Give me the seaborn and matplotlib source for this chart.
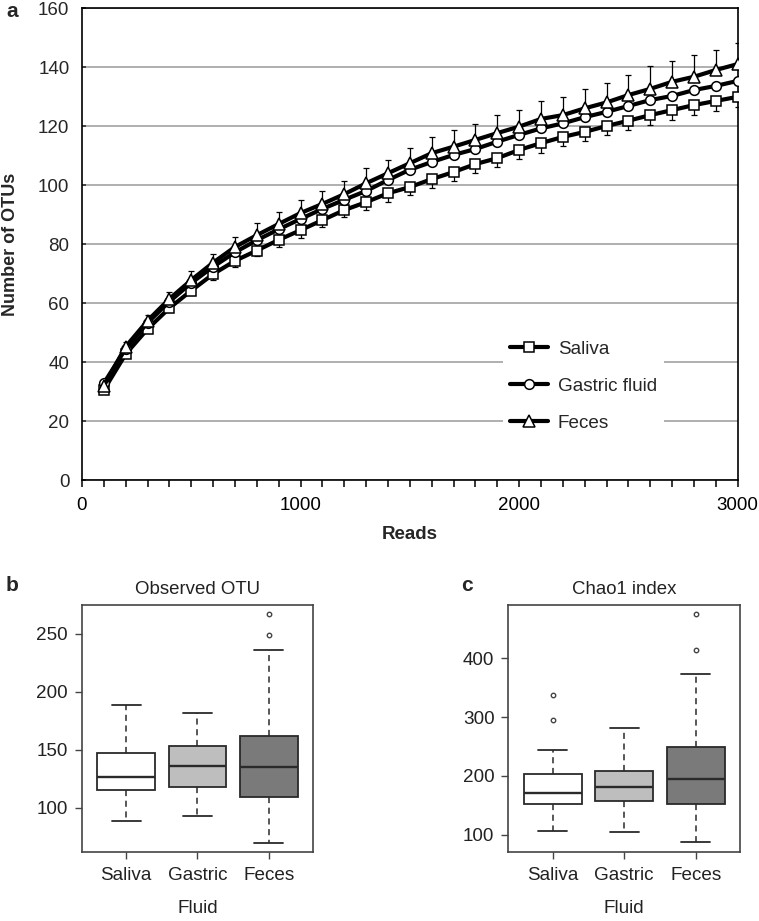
import numpy as np
import pandas as pd
import matplotlib
matplotlib.use("Agg")
import matplotlib.pyplot as plt
from matplotlib.ticker import MultipleLocator
import seaborn as sns

# rarefaction curves (panel a)
reads = [100, 200, 300, 400, 500, 600, 700, 800, 900, 1000,
         1100, 1200, 1300, 1400, 1500, 1600, 1700, 1800, 1900, 2000,
         2100, 2200, 2300, 2400, 2500, 2600, 2700, 2800, 2900, 3000]
saliva = [30.5, 42.7, 51.2, 58.3, 64.2, 69.8, 74.3, 77.8, 81.4, 84.7,
          88.1, 91.5, 94.2, 97.2, 99.3, 102.0, 104.4, 107.1, 109.1, 111.9,
          114.2, 116.3, 118.0, 120.0, 121.8, 123.7, 125.4, 127.1, 128.5, 129.9]
gastric = [32.8, 44.5, 53.3, 60.5, 66.8, 72.3, 77.2, 81.3, 85.0, 88.5,
           91.9, 95.0, 98.0, 101.7, 105.2, 107.8, 110.2, 112.2, 114.7, 117.0,
           119.2, 120.9, 123.0, 124.8, 126.8, 128.8, 130.2, 132.2, 133.6, 135.3]
feces = [31.9, 45.2, 54.0, 61.4, 67.8, 73.7, 79.0, 83.0, 86.8, 90.5,
         93.6, 96.9, 100.6, 104.0, 107.4, 110.8, 113.0, 115.3, 117.6, 119.8,
         122.4, 123.7, 126.0, 128.0, 130.5, 132.6, 135.0, 136.7, 139.0, 141.0]
feces_err = [1.0, 1.5, 2.0, 2.5, 3.0, 3.0, 3.5, 4.0, 4.0, 4.5,
             4.5, 4.5, 5.0, 4.5, 5.0, 5.5, 5.5, 5.5, 6.0, 5.6,
             6.0, 6.0, 6.5, 6.5, 6.8, 7.6, 7.0, 7.3, 6.8, 7.0]
saliva_err = [0.5, 1.0, 1.0, 1.5, 1.5, 2.0, 2.0, 2.0, 2.5, 2.5,
              2.5, 2.5, 2.8, 2.8, 2.8, 3.0, 3.0, 3.0, 3.0, 3.2,
              3.2, 3.2, 3.2, 3.2, 3.3, 3.3, 3.4, 3.4, 3.5, 3.6]

# per-sample diversity (panels b, c)
fluids = ["Saliva", "Gastric", "Feces"]
otu_saliva = [88.5, 101, 110, 115.8, 119, 123, 126.7, 133, 140, 147.0, 158, 171, 189.1]
otu_gastric = [92.8, 104, 112, 117.8, 124, 130, 136.0, 141, 147, 153.1, 162, 171, 181.9]
otu_feces = [69.8, 88, 100, 109.1, 118, 127, 135.0, 143, 152, 161.7, 235.9, 249.1, 266.9]
chao_saliva = [107.3, 128, 142, 152.1, 160, 166, 171.8, 183, 194, 203.6, 244.3, 295.2, 337.2]
chao_gastric = [105.6, 133, 148, 157.7, 167, 175, 182.0, 192, 201, 209.2, 232, 256, 281.2]
chao_feces = [87.6, 118, 138, 152.1, 168, 182, 195.6, 215, 232, 248.9, 372.2, 414.1, 475.2]

box_colors = ["#FFFFFF", "#BEBEBE", "#7A7A7A"]

sns.set_style("white")
plt.rcParams["font.family"] = ["Liberation Sans", "DejaVu Sans"]

fig = plt.figure(figsize=(7.59, 9.21), dpi=100)

# ---------- panel a ----------
ax = fig.add_axes([0.108, 0.4788, 0.864, 0.5125])
series = [("Saliva", saliva, "s"), ("Gastric fluid", gastric, "o"), ("Feces", feces, "^")]

ax.errorbar(reads, saliva, yerr=[saliva_err, np.zeros(len(reads))], fmt="none",
            ecolor="black", elinewidth=0.9, capsize=2.5, capthick=0.9, zorder=2)
ax.errorbar(reads, feces, yerr=[np.zeros(len(reads)), feces_err], fmt="none",
            ecolor="black", elinewidth=0.9, capsize=2.5, capthick=0.9, zorder=2)

for name, vals, mk in series:
    sns.lineplot(x=reads, y=vals, ax=ax, color="black", linewidth=3.0,
                 marker=mk, markersize=8 if mk == "^" else 7,
                 markerfacecolor="white", markeredgecolor="black",
                 markeredgewidth=1.1, label=name, zorder=3)

ax.set_xlim(0, 3000)
ax.set_ylim(0, 160)
ax.set_yticks(range(0, 161, 20))
ax.set_xticks([0, 1000, 2000, 3000])
ax.xaxis.set_minor_locator(MultipleLocator(100))
ax.yaxis.grid(True, color="#9a9a9a", linewidth=1.1)
ax.set_axisbelow(True)
for s in ax.spines.values():
    s.set_color("black")
    s.set_linewidth(1.2)
ax.tick_params(axis="x", which="both", direction="out", length=5, width=1.1,
               labelsize=13.5, pad=7, colors="black", bottom=True)
ax.tick_params(axis="y", direction="in", length=3, width=1.1, labelsize=13.5, pad=9, left=True)
ax.set_xlabel("Reads", fontsize=13.5, fontweight="bold", labelpad=9)
ax.set_ylabel("Number of OTUs", fontsize=13, fontweight="bold")
ax.yaxis.set_label_coords(-0.096, 0.5)

leg = ax.legend(loc="center", bbox_to_anchor=(0.765, 0.199), fontsize=13.6,
                frameon=True, framealpha=1, facecolor="white", edgecolor="none",
                handlelength=2.0, handletextpad=0.5, labelspacing=1.05,
                borderpad=0.4, fancybox=False)
fig.text(0.008, 0.987, "a", fontsize=15, fontweight="bold", va="center")

# ---------- panels b and c ----------
def draw_box(ax, vals, title, ylim, yticks):
    df = pd.DataFrame({
        "Fluid": np.repeat(fluids, [len(v) for v in vals]),
        "value": np.concatenate(vals),
    })
    sns.boxplot(data=df, x="Fluid", y="value", hue="Fluid", order=fluids,
                hue_order=fluids, palette=box_colors, legend=False, ax=ax,
                width=0.81, whis=1.5, linecolor="#2a2a2a", linewidth=1.3,
                saturation=1,
                whiskerprops={"linestyle": (0, (4, 3)), "linewidth": 1.1},
                capprops={"linewidth": 1.3},
                medianprops={"linewidth": 1.7, "color": "#2a2a2a"},
                flierprops={"marker": "o", "markersize": 3.2,
                            "markerfacecolor": "white",
                            "markeredgecolor": "#444444",
                            "markeredgewidth": 1.0})
    ax.set_xlim(-0.62, 2.62)
    ax.set_ylim(*ylim)
    ax.set_yticks(yticks)
    for s in ax.spines.values():
        s.set_color("#444444")
        s.set_linewidth(1.2)
    ax.tick_params(axis="both", direction="out", length=5, width=1.0,
                   labelsize=13.6, colors="#444444", labelcolor="#222222",
                   bottom=True, left=True)
    ax.tick_params(axis="x", pad=6)
    ax.tick_params(axis="y", pad=5)
    ax.set_xlabel("Fluid", fontsize=13.6, color="#222222", labelpad=11)
    ax.set_ylabel("")
    ax.set_title(title, fontsize=13.4, color="#222222", pad=8)


axb = fig.add_axes([0.108, 0.0749, 0.3043, 0.2682])
draw_box(axb, [otu_saliva, otu_gastric, otu_feces], "Observed OTU", (62, 275), [100, 150, 200, 250])
axc = fig.add_axes([0.6697, 0.0749, 0.3053, 0.2682])
draw_box(axc, [chao_saliva, chao_gastric, chao_feces], "Chao1 index", (71, 490), [100, 200, 300, 400])

fig.text(0.008, 0.364, "b", fontsize=15, fontweight="bold", va="center")
fig.text(0.607, 0.364, "c", fontsize=15, fontweight="bold", va="center")

fig.savefig("out.png", dpi=100)
